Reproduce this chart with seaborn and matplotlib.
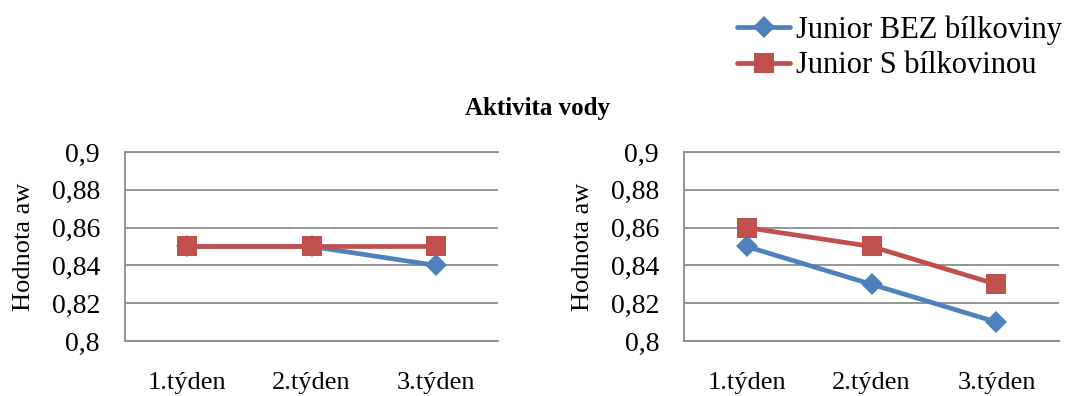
import matplotlib
matplotlib.use("Agg")
import matplotlib.pyplot as plt
import seaborn as sns
import pandas as pd

# Water activity measurements over three weeks
weeks = ["1.týden", "2.týden", "3.týden"]
series_names = ["Junior BEZ bílkoviny", "Junior S bílkovinou"]

left_bez = [0.85, 0.85, 0.84]
left_s = [0.85, 0.85, 0.85]
right_bez = [0.85, 0.83, 0.81]
right_s = [0.86, 0.85, 0.83]

yticks = [0.8, 0.82, 0.84, 0.86, 0.88, 0.9]
ytick_labels = ["0,8", "0,82", "0,84", "0,86", "0,88", "0,9"]

sns.set_theme(style="white")
plt.rcParams["font.family"] = ["Liberation Serif", "DejaVu Serif"]
plt.rcParams["text.color"] = "black"
plt.rcParams["xtick.color"] = "black"
plt.rcParams["ytick.color"] = "black"
plt.rcParams["axes.labelcolor"] = "black"

colors = {"Junior BEZ bílkoviny": "#4F81BD", "Junior S bílkovinou": "#C0504D"}
markers = {"Junior BEZ bílkoviny": "D", "Junior S bílkovinou": "s"}
msizes = {"Junior BEZ bílkoviny": 11.5, "Junior S bílkovinou": 14.5}

fig = plt.figure(figsize=(10.69, 3.96), dpi=100)
ax1 = fig.add_axes([0.1169, 0.1389, 0.3490, 0.4773])
ax2 = fig.add_axes([0.6399, 0.1389, 0.3507, 0.4773])

grid_col = "#8C8C8C"

for ax, bez, s in [(ax1, left_bez, left_s), (ax2, right_bez, right_s)]:
    for name, vals in [(series_names[0], bez), (series_names[1], s)]:
        df = pd.DataFrame({"week": weeks, "aw": vals})
        sns.lineplot(data=df, x="week", y="aw", ax=ax, color=colors[name],
                     marker=markers[name], markersize=msizes[name],
                     markeredgewidth=0, linewidth=3.4, sort=False, label=name)
    ax.set_xlim(-0.5, 2.5)
    ax.set_ylim(0.8, 0.9)
    ax.set_yticks(yticks)
    ax.set_yticklabels(ytick_labels)
    ax.yaxis.grid(True, color=grid_col, linewidth=1.3)
    ax.set_axisbelow(True)
    ax.set_xlabel("")
    ax.set_ylabel("Hodnota aw", fontsize=19, labelpad=12)
    ax.tick_params(axis="y", labelsize=20, pad=18, length=0)
    ax.tick_params(axis="x", labelsize=19, pad=22, length=0)
    ax.spines["right"].set_visible(False)
    for side in ["left", "bottom", "top"]:
        ax.spines[side].set_color(grid_col)
        ax.spines[side].set_linewidth(1.3)
    ax.get_legend().remove()

handles, labels = ax1.get_legend_handles_labels()
fig.legend(handles, labels, loc="upper right", bbox_to_anchor=(1.011, 1.008),
           frameon=False, fontsize=22, handlelength=1.75, handletextpad=0.2,
           labelspacing=0.22, borderaxespad=0.2)

fig.text(0.5025, 0.727, "Aktivita vody", ha="center", va="center",
         fontsize=18, fontweight="bold")

fig.savefig("out.png", dpi=100)
